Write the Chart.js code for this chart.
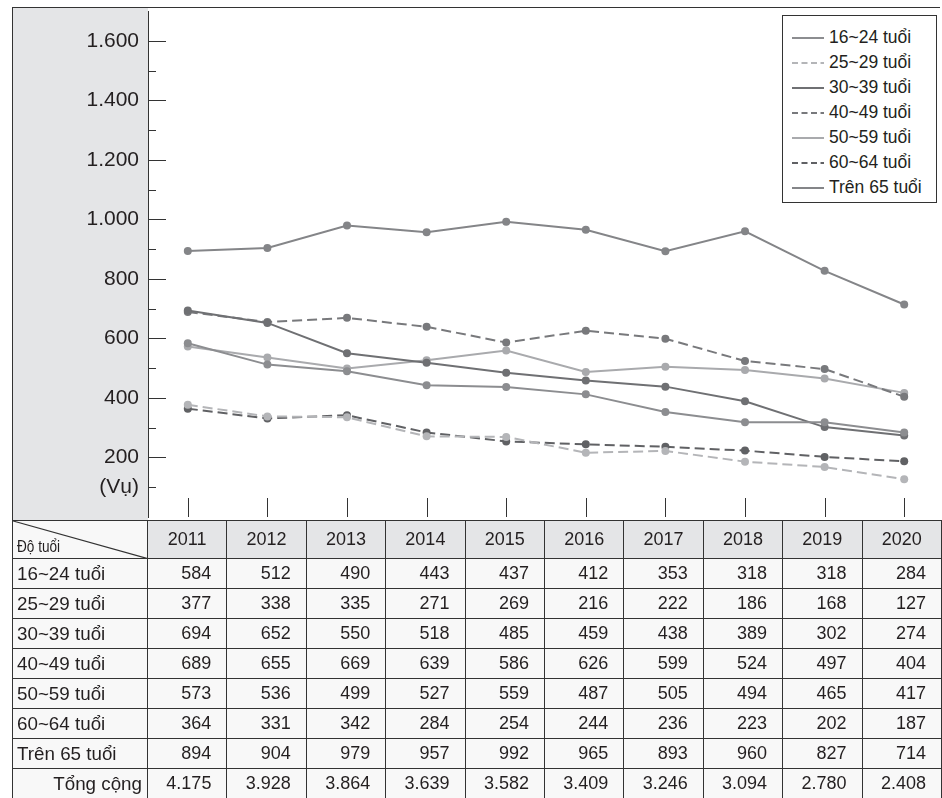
<!DOCTYPE html>
<html lang="vi">
<head>
<meta charset="utf-8">
<title>Số vụ theo độ tuổi 2011–2020</title>
<script src="https://cdn.jsdelivr.net/npm/chart.js@4/dist/chart.umd.min.js"></script>
<style>
  html, body { margin: 0; padding: 0; background: #fff; }
  body { width: 942px; height: 798px; position: relative; overflow: hidden;
         font-family: "Liberation Sans", Arial, Helvetica, sans-serif; color: #231f20; }
  #topLine { position: absolute; left: 12px; top: 7px; width: 928px; height: 1px; background: #333; }
  #panel { position: absolute; left: 12px; top: 7px; width: 135px; height: 514px;
           background: #e4e5e7; border-left: 1px solid #333; }
  #chartBox { position: absolute; left: 12px; top: 7px; width: 936px; height: 514px; }
  #legend { position: absolute; left: 782px; top: 15px; width: 155px; height: 188px;
            border: 1px solid #333; background: #fff; box-sizing: border-box; }
  .lg-item { position: absolute; left: 0; height: 25px; display: flex; align-items: center;
             font-size: 17.5px; white-space: nowrap; }
  .lg-item svg { margin-left: 9px; margin-right: 5px; }
  #dataTable { position: absolute; left: 12px; top: 520px; border-collapse: collapse;
               table-layout: fixed; font-size: 18px; }
  #dataTable td, #dataTable th { border: 1px solid #333; padding: 0; overflow: hidden;
               white-space: nowrap; font-weight: normal; }
  #dataTable thead th { height: 37px; background: #e4e5e7; text-align: center; }
  #dataTable tbody td { height: 29px; background: #f8f8f8; text-align: right; padding-right: 15px; }
  #dataTable tbody td.rowHead { text-align: left; padding-left: 4px; padding-right: 0; font-size: 18.8px; }
  #dataTable tbody tr.total td.rowHead { text-align: right; padding-right: 5px; padding-left: 0; }
  #dataTable th.corner { position: relative; background: #f8f8f8; text-align: left; vertical-align: bottom; }
  #dataTable th.corner svg { position: absolute; left: 0; top: 0; }
  #dataTable th.corner span { font-size: 17px; margin-left: 4px; display: inline-block; padding-bottom: 1px;
       transform: scaleX(0.8); transform-origin: left bottom; }
</style>
</head>
<body>
<div id="panel"></div>
<div id="topLine"></div>
<div id="chartBox"><canvas id="chart" width="936" height="514"></canvas></div>
<div id="legend"></div>
<table id="dataTable">
  <colgroup id="cols"></colgroup>
  <thead><tr id="headRow"></tr></thead>
  <tbody id="tableBody"></tbody>
</table>

<script>
// Years shown along the bottom and as table headers
const years = ['2011', '2012', '2013', '2014', '2015', '2016', '2017', '2018', '2019', '2020'];

// Age groups
const groupNames = ['16~24 tuổi', '25~29 tuổi', '30~39 tuổi', '40~49 tuổi', '50~59 tuổi', '60~64 tuổi', 'Trên 65 tuổi'];

// Number of cases (Vụ) per age group and year
const age16to24 = [584, 512, 490, 443, 437, 412, 353, 318, 318, 284];
const age25to29 = [377, 338, 335, 271, 269, 216, 222, 186, 168, 127];
const age30to39 = [694, 652, 550, 518, 485, 459, 438, 389, 302, 274];
const age40to49 = [689, 655, 669, 639, 586, 626, 599, 524, 497, 404];
const age50to59 = [573, 536, 499, 527, 559, 487, 505, 494, 465, 417];
const age60to64 = [364, 331, 342, 284, 254, 244, 236, 223, 202, 187];
const age65plus = [894, 904, 979, 957, 992, 965, 893, 960, 827, 714];

// Yearly totals
const totals = [4175, 3928, 3864, 3639, 3582, 3409, 3246, 3094, 2780, 2408];

// Y-axis labelled values and unit
const yLabelValues = [200, 400, 600, 800, 1000, 1200, 1400, 1600];
const unitLabel = '(Vụ)';
const totalLabel = 'Tổng cộng';
const cornerLabel = 'Độ tuổi';

const seriesValues = [age16to24, age25to29, age30to39, age40to49, age50to59, age60to64, age65plus];
const seriesColors = ['#8c8d90', '#b4b5b8', '#6f7073', '#78797c', '#a9aaad', '#606164', '#848588'];
const seriesDashed = [false, true, false, true, false, true, false];

function fmt(n) {
  return String(n).replace(/\B(?=(\d{3})+(?!\d))/g, '.');
}

// ---- chart ----
const datasets = seriesValues.map((vals, i) => ({
  label: groupNames[i],
  data: vals,
  borderColor: seriesColors[i],
  backgroundColor: seriesColors[i],
  pointBackgroundColor: seriesColors[i],
  borderWidth: 2,
  borderDash: seriesDashed[i] ? [10, 5] : [],
  pointRadius: 4,
  pointHoverRadius: 4,
  pointBorderWidth: 0,
  tension: 0,
  fill: false
}));

// Inward tick marks on both axes
const innerTicks = {
  id: 'innerTicks',
  afterDraw(chart) {
    const { ctx, chartArea, scales } = chart;
    ctx.save();
    ctx.strokeStyle = '#333';
    ctx.lineWidth = 1;
    ctx.setLineDash([]);
    ctx.beginPath();
    scales.y.ticks.forEach(t => {
      if (t.value <= 0 || t.value >= scales.y.max) return;
      const py = Math.round(scales.y.getPixelForValue(t.value)) + 0.5;
      const len = t.value % 200 === 0 ? 18 : 8;
      ctx.moveTo(chartArea.left, py);
      ctx.lineTo(chartArea.left + len, py);
    });
    scales.x.ticks.forEach((t, i) => {
      const px = Math.round(scales.x.getPixelForTick(i)) + 0.5;
      ctx.moveTo(px, chartArea.bottom - 19);
      ctx.lineTo(px, chartArea.bottom);
    });
    ctx.stroke();
    ctx.restore();
  }
};

new Chart(document.getElementById('chart'), {
  type: 'line',
  data: { labels: years, datasets },
  options: {
    responsive: false,
    devicePixelRatio: 1,
    animation: false,
    events: [],
    layout: { padding: 0 },
    plugins: { legend: { display: false }, tooltip: { enabled: false } },
    scales: {
      x: {
        type: 'category',
        offset: true,
        grid: { display: false, drawTicks: false },
        border: { display: false },
        ticks: { display: false },
        afterFit(s) { s.height = 0; s.paddingLeft = 0; s.paddingRight = 0; }
      },
      y: {
        min: 0,
        max: 1700,
        grid: { display: false, drawTicks: false },
        border: { display: true, color: '#333', width: 1 },
        ticks: {
          stepSize: 100,
          autoSkip: false,
          padding: 9,
          color: '#231f20',
          font: { family: '"Liberation Sans", Arial, sans-serif', size: 21 },
          callback(v) {
            if (v === 100) return unitLabel;
            return yLabelValues.includes(v) ? fmt(v) : '';
          }
        },
        afterFit(s) { s.width = 136; s.paddingTop = 0; s.paddingBottom = 0; }
      }
    }
  },
  plugins: [innerTicks]
});

// ---- legend ----
const legend = document.getElementById('legend');
groupNames.forEach((name, i) => {
  const item = document.createElement('div');
  item.className = 'lg-item';
  item.style.top = (9 + i * 25) + 'px';
  const dash = seriesDashed[i] ? ' stroke-dasharray="6 3.5"' : '';
  item.innerHTML = '<svg width="32" height="4"><line x1="0" y1="2" x2="32" y2="2" stroke="' +
    seriesColors[i] + '" stroke-width="2"' + dash + '/></svg><span>' + name + '</span>';
  legend.appendChild(item);
});

// ---- table ----
const cols = document.getElementById('cols');
let colHtml = '<col style="width:136px">';
years.forEach(() => { colHtml += '<col style="width:80px">'; });
cols.innerHTML = colHtml;

const headRow = document.getElementById('headRow');
let head = '<th class="corner"><svg width="136" height="38"><line x1="0" y1="0" x2="136" y2="38" stroke="#333" stroke-width="1.2"/></svg><span>' + cornerLabel + '</span></th>';
years.forEach(y => { head += '<th>' + y + '</th>'; });
headRow.innerHTML = head;

const body = document.getElementById('tableBody');
let rows = '';
seriesValues.forEach((vals, i) => {
  rows += '<tr><td class="rowHead">' + groupNames[i] + '</td>' +
    vals.map(v => '<td>' + fmt(v) + '</td>').join('') + '</tr>';
});
rows += '<tr class="total"><td class="rowHead">' + totalLabel + '</td>' +
  totals.map(v => '<td>' + fmt(v) + '</td>').join('') + '</tr>';
body.innerHTML = rows;
</script>
</body>
</html>
